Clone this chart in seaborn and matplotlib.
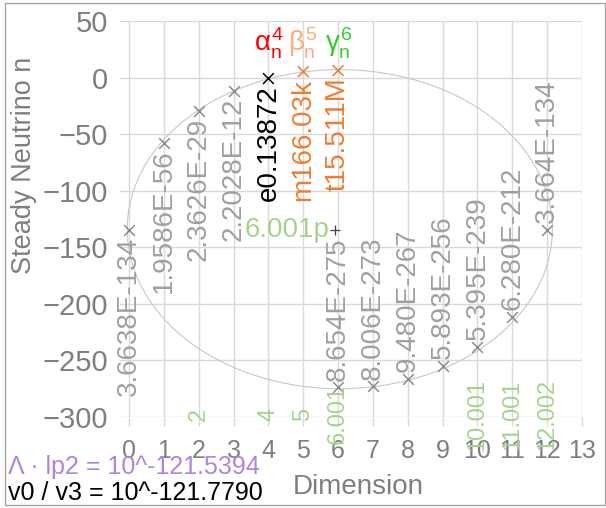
import matplotlib
matplotlib.use('Agg')
import matplotlib.pyplot as plt
import seaborn as sns
from matplotlib.patches import Ellipse, Rectangle

# gray series (log10 of the labelled values)
gray_x = [0, 1, 2, 3, 6, 7, 8, 9, 10, 11, 12]
gray_y = [-134.3, -57.4, -29.2, -11.5, -273.9, -273.0, -266.0, -255.3, -238.5, -212.0, -134.3]
gray_labels = ['3.6638E-134', '1.9586E-56', '2.3626E-29', '2.2028E-12',
               '8.654E-275', '8.006E-273', '9.480E-267', '5.893E-256',
               '5.395E-239', '6.280E-212', '3.664E-134']

# highlighted points
hi_x = [4, 5, 6]
hi_y = [-0.9, 5.2, 6.2]
hi_labels = ['e0.13872', 'm166.03k', 't15.511M']
hi_colors = ['#000000', '#ed7d31', '#ed7d31']
head_labels = [r'$α_{n}^{4}$', r'$β_{n}^{5}$', r'$γ_{n}^{6}$']
head_colors = ['#ff0000', '#f4b183', '#33cc33']
head_y = 30

# green labels along the bottom
low_x = [2, 4, 5, 6, 10, 11, 12]
low_labels = ['2', '4', '5', '6.001', '10.001', '11.001', '12.002']
low_y = -298

plus_x = [5.92]
plus_y = [-134.3]
plus_label = '6.001p'

ell_center = (6.05, -134.0)
ell_w, ell_h = 12.2, 282

sns.set_theme(style='white')
plt.rcParams['font.family'] = ['Liberation Sans', 'DejaVu Sans']
plt.rcParams['mathtext.fontset'] = 'custom'
plt.rcParams['mathtext.rm'] = 'Liberation Sans'
plt.rcParams['mathtext.it'] = 'Liberation Sans'

tick_gray = '#7f7f7f'
lab_gray = '#a0a0a0'
green = '#a9d18e'

fig = plt.figure(figsize=(6.06, 5.08), dpi=100)
ax = fig.add_axes([0.1985, 0.1791, 0.7619, 0.7796])

ax.add_patch(Ellipse(ell_center, ell_w, ell_h, fill=False, edgecolor='#c8c8c8', lw=0.8))

sns.scatterplot(x=gray_x, y=gray_y, marker='x', s=60, color='#8c8c8c', linewidth=1.1, ax=ax)
sns.scatterplot(x=hi_x, y=hi_y, marker='x', s=60, color=hi_colors, linewidth=1.1, ax=ax)
sns.scatterplot(x=plus_x, y=plus_y, marker='+', s=50, color='#404040', linewidth=0.9, ax=ax)

for x, y, t in zip(gray_x, gray_y, gray_labels):
    if x <= 3:
        ax.annotate(t, (x, y), xytext=(0, -5), textcoords='offset points', rotation=90,
                    ha='center', va='top', fontsize=20, color=lab_gray, annotation_clip=False)
    else:
        ax.annotate(t, (x, y), xytext=(0, 5), textcoords='offset points', rotation=90,
                    ha='center', va='bottom', fontsize=20, color=lab_gray, annotation_clip=False)

for x, y, t, c in zip(hi_x, hi_y, hi_labels, hi_colors):
    ax.annotate(t, (x, y), xytext=(0, -5), textcoords='offset points', rotation=90,
                ha='center', va='top', fontsize=20, color=c)

for x, t, c in zip(hi_x, head_labels, head_colors):
    ax.text(x, head_y, t, ha='center', va='center', fontsize=20, color=c)

for x, t in zip(low_x, low_labels):
    ax.text(x, low_y, t, rotation=90, ha='center', va='center', fontsize=17, color=green, clip_on=False)

ax.annotate(plus_label, (plus_x[0], plus_y[0]), xytext=(-4, 0), textcoords='offset points',
            ha='right', va='center', fontsize=20, color=green)

ax.set_xlim(-0.25, 13)
ax.set_ylim(-300, 50)
ax.set_xticks(range(0, 14))
ax.set_yticks(range(-300, 51, 50))
ax.grid(True, color='#d9d9d9', lw=1)
for s in ax.spines.values():
    s.set_visible(False)
ax.tick_params(axis='x', bottom=True, length=6.5, width=1, color='#d9d9d9',
               labelsize=18, labelcolor=tick_gray, pad=9)
ax.tick_params(axis='y', left=False, length=0, labelsize=21, labelcolor=tick_gray, pad=9)
ax.set_xlabel('')
ax.set_ylabel('')

fig.text(24 / 606, 1 - 165 / 508, 'Steady Neutrino n', rotation=90, ha='center', va='center',
         fontsize=19.5, color=tick_gray)
fig.text(358 / 606, 1 - 487 / 508, 'Dimension', ha='center', va='center', fontsize=20, color=tick_gray)
fig.text(8 / 606, 1 - 467 / 508, 'Λ · lp2 = 10^-121.5394', ha='left', va='center',
         fontsize=18, color='#b084e0')
fig.text(8 / 606, 1 - 493 / 508, 'v0 / v3 = 10^-121.7790', ha='left', va='center',
         fontsize=18, color='#000000')

fig.patches.append(Rectangle((0.008, 0.006), 0.99, 0.988, transform=fig.transFigure,
                             fill=False, edgecolor='#a6a6a6', lw=1))

fig.savefig('out.png', dpi=100)
